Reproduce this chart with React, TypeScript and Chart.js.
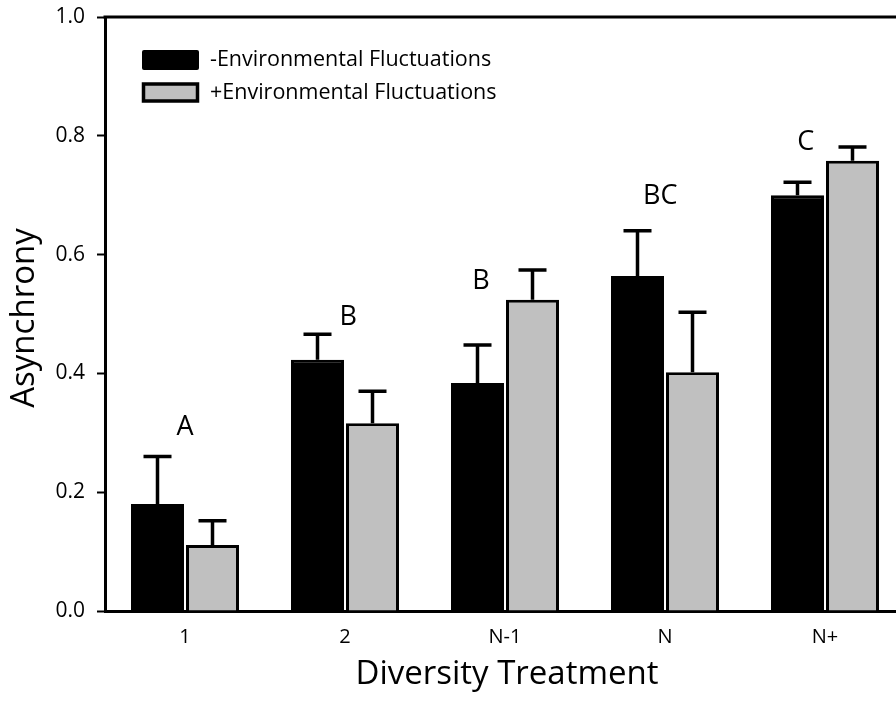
import React, { useEffect, useRef } from "react";
import { Chart, registerables } from "chart.js";

Chart.register(...registerables);

const categories = ["1", "2", "N-1", "N", "N+"];
const minusEnvValues = [0.18, 0.423, 0.384, 0.564, 0.70];
const minusEnvErrors = [0.08, 0.043, 0.064, 0.076, 0.022];
const plusEnvValues = [0.111, 0.316, 0.524, 0.402, 0.758];
const plusEnvErrors = [0.041, 0.054, 0.05, 0.101, 0.023];
const groupLetters = ["A", "B", "B", "BC", "C"];
const letterOffsets = [0, 0.02, -0.15, -0.03, -0.12];
const letterHeights = [0.296, 0.481, 0.542, 0.685, 0.776];
const seriesNames = ["-Environmental Fluctuations", "+Environmental Fluctuations"];
const yTicks = [0, 0.2, 0.4, 0.6, 0.8, 1.0];

const FONT = "'Open Sans', 'DejaVu Sans', sans-serif";

const errorBarPlugin = {
  id: "errorBars",
  afterDatasetsDraw(chart: any) {
    const ctx = chart.ctx;
    const yScale = chart.scales.y;
    const errs = [minusEnvErrors, plusEnvErrors];
    chart.data.datasets.forEach((ds: any, di: number) => {
      const meta = chart.getDatasetMeta(di);
      meta.data.forEach((bar: any, i: number) => {
        const v = ds.data[i];
        const topY = yScale.getPixelForValue(v + errs[di][i]);
        const baseY = yScale.getPixelForValue(v);
        ctx.save();
        ctx.strokeStyle = "#000";
        ctx.lineWidth = 3.5;
        ctx.beginPath();
        ctx.moveTo(bar.x, baseY);
        ctx.lineTo(bar.x, topY);
        ctx.moveTo(bar.x - 14, topY);
        ctx.lineTo(bar.x + 14, topY);
        ctx.stroke();
        ctx.restore();
      });
    });
  },
};

const decorPlugin = {
  id: "decor",
  afterDraw(chart: any) {
    const ctx = chart.ctx;
    const { left, right, top } = chart.chartArea;
    const xScale = chart.scales.x;
    const yScale = chart.scales.y;
    ctx.save();
    ctx.strokeStyle = "#000";
    ctx.lineWidth = 3;
    ctx.beginPath();
    ctx.moveTo(left - 1.5, top);
    ctx.lineTo(right, top);
    ctx.stroke();

    ctx.fillStyle = "#000";
    ctx.font = `27px ${FONT}`;
    ctx.textAlign = "center";
    ctx.textBaseline = "alphabetic";
    groupLetters.forEach((l, i) => {
      const x = xScale.getPixelForValue(i + letterOffsets[i]);
      const y = yScale.getPixelForValue(letterHeights[i]);
      ctx.fillText(l, x, y);
    });

    ctx.fillStyle = "#000";
    ctx.beginPath();
    (ctx as any).roundRect ? (ctx as any).roundRect(142, 50, 57, 20, 2) : ctx.rect(142, 50, 57, 20);
    ctx.fill();
    ctx.fillStyle = "#c0c0c0";
    ctx.fillRect(143.5, 84, 54, 17);
    ctx.lineWidth = 3.5;
    ctx.strokeStyle = "#000";
    ctx.strokeRect(143.5, 84, 54, 17);
    ctx.fillStyle = "#000";
    ctx.font = `21.5px ${FONT}`;
    ctx.textAlign = "left";
    ctx.textBaseline = "middle";
    ctx.fillText(seriesNames[0], 210, 60);
    ctx.fillText(seriesNames[1], 210, 93);

    ctx.font = `33px ${FONT}`;
    ctx.textAlign = "center";
    ctx.textBaseline = "middle";
    ctx.save();
    ctx.translate(25, 318);
    ctx.rotate(-Math.PI / 2);
    ctx.fillText("Asynchrony", 0, 0);
    ctx.restore();
    ctx.textBaseline = "alphabetic";
    ctx.fillText("Diversity Treatment", 507, 684);
    ctx.restore();
  },
};

export default function App() {
  const ref = useRef<HTMLCanvasElement | null>(null);
  useEffect(() => {
    if (!ref.current) return;
    const chart = new Chart(ref.current, {
      type: "bar",
      data: {
        labels: categories,
        datasets: [
          {
            label: seriesNames[0],
            data: minusEnvValues,
            backgroundColor: "#000000",
            borderColor: "#000000",
            borderWidth: 3,
            categoryPercentage: 0.6875,
            barPercentage: 0.9636,
          },
          {
            label: seriesNames[1],
            data: plusEnvValues,
            backgroundColor: "#c0c0c0",
            borderColor: "#000000",
            borderWidth: 3,
            categoryPercentage: 0.6875,
            barPercentage: 0.9636,
          },
        ],
      },
      options: {
        responsive: false,
        animation: false,
        devicePixelRatio: 1,
        layout: { padding: { left: 0, top: 17, right: 7, bottom: 0 } },
        plugins: {
          legend: { display: false },
          tooltip: { enabled: false },
          title: { display: false },
        },
        scales: {
          x: {
            grid: { display: false, drawTicks: false },
            border: { display: true, color: "#000", width: 3 },
            ticks: {
              color: "#000",
              font: { family: FONT, size: 20 },
              padding: 14,
            },
            afterFit: (s: any) => {
              s.height = 91;
              s.paddingLeft = 0;
              s.paddingRight = 0;
            },
          },
          y: {
            min: 0,
            max: 1,
            afterBuildTicks: (s: any) => {
              s.ticks = yTicks.map((v) => ({ value: v }));
            },
            grid: {
              display: true,
              drawOnChartArea: false,
              drawTicks: true,
              tickLength: 8,
              tickColor: "#000",
              tickWidth: 2,
            },
            border: { display: true, color: "#000", width: 3 },
            ticks: {
              color: "#000",
              font: { family: FONT, size: 21 },
              padding: 12,
              callback: (v: any) => Number(v).toFixed(1),
            },
            afterFit: (s: any) => {
              s.width = 105;
              s.paddingTop = 0;
              s.paddingBottom = 0;
            },
          },
        },
      },
      plugins: [errorBarPlugin, decorPlugin],
    });
    return () => chart.destroy();
  }, []);
  return (
    <div
      style={{
        position: "fixed",
        left: 0,
        top: 0,
        width: 896,
        height: 702,
        overflow: "hidden",
        background: "#fff",
      }}
    >
      <canvas ref={ref} width={912} height={702} style={{ width: 912, height: 702, display: "block" }} />
    </div>
  );
}
